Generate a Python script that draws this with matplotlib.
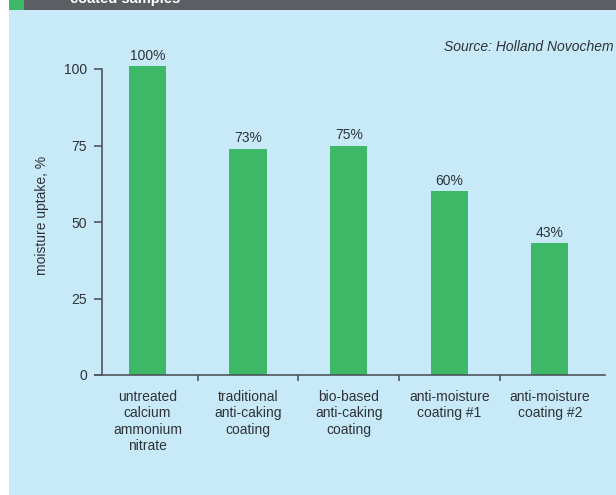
import matplotlib.pyplot as plt
from matplotlib.patches import Rectangle

categories = ["untreated\ncalcium\nammonium\nnitrate",
              "traditional\nanti-caking\ncoating",
              "bio-based\nanti-caking\ncoating",
              "anti-moisture\ncoating #1",
              "anti-moisture\ncoating #2"]
values = [101, 74, 75, 60, 43]
value_labels = ["100%", "73%", "75%", "60%", "43%"]
yticks = [0, 25, 50, 75, 100]

W, H = 616, 495
bg = "#c8e9f8"
green = "#3db867"
axis_col = "#50565c"
text_col = "#2e3338"
fs = 10

plt.rcParams['font.family'] = ['Liberation Sans Narrow', 'Liberation Sans', 'DejaVu Sans']

fig = plt.figure(figsize=(W / 100, H / 100), dpi=100)
fig.patch.set_facecolor("white")

# light blue panel and header strip (drawn under the axes)
fig.patches.append(Rectangle((9 / W, 0), 1, (H - 10) / H, transform=fig.transFigure,
                             facecolor=bg, edgecolor="none", zorder=-3))
fig.patches.append(Rectangle((9 / W, (H - 10) / H), 1, 10 / H, transform=fig.transFigure,
                             facecolor="#5b5f63", edgecolor="none", zorder=-2))
fig.patches.append(Rectangle((9 / W, (H - 10) / H), 15 / W, 10 / H, transform=fig.transFigure,
                             facecolor=green, edgecolor="none", zorder=-1))
fig.text(70 / W, (H - 3) / H, "coated samples", color="white", fontsize=10.5,
         fontweight="bold", va="baseline", ha="left")

# axes: x from px 95 to 605, y zero at px 375, 3.06 px per unit
left_px, right_px = 95, 605
y0_px = 375
ppu = 3.06
ytop = 112
ax = fig.add_axes([left_px / W, (H - y0_px) / H, (right_px - left_px) / W, ytop * ppu / H])
ax.set_facecolor("none")
ax.set_zorder(2)

x = list(range(len(categories)))
ax.bar(x, values, width=0.37, color=green, zorder=2)
for xi, v, lab in zip(x, values, value_labels):
    ax.text(xi, v + 1.0, lab, ha="center", va="bottom", fontsize=fs, color=text_col)

ax.set_xlim(-0.522, 4.548)
ax.set_ylim(0, ytop)

for s in ["top", "right"]:
    ax.spines[s].set_visible(False)
ax.spines["left"].set_position(("data", -0.452))
ax.spines["left"].set_bounds(0, 100)
for s in ["left", "bottom"]:
    ax.spines[s].set_color(axis_col)
    ax.spines[s].set_linewidth(1.2)

ax.set_yticks(yticks)
ax.tick_params(axis="y", length=6, width=1.2, color=axis_col, labelsize=fs,
               labelcolor=text_col, pad=5)

ax.set_xticks(x)
ax.set_xticklabels(categories, fontsize=fs, color=text_col, linespacing=1.2)
ax.tick_params(axis="x", length=0, pad=11)
ax.set_xticks([0.5, 1.5, 2.5, 3.5], minor=True)
ax.tick_params(axis="x", which="minor", length=4, width=1.2, color=axis_col)

fig.text(42 / W, 1 - 215 / H, "moisture uptake, %", rotation=90, ha="center", va="center",
         fontsize=fs, color=text_col)
fig.text(613 / W, 1 - 47 / H, "Source: Holland Novochem", ha="right", va="center",
         fontsize=fs, style="italic", color=text_col)

fig.savefig("out.png", dpi=100, facecolor=fig.get_facecolor())
